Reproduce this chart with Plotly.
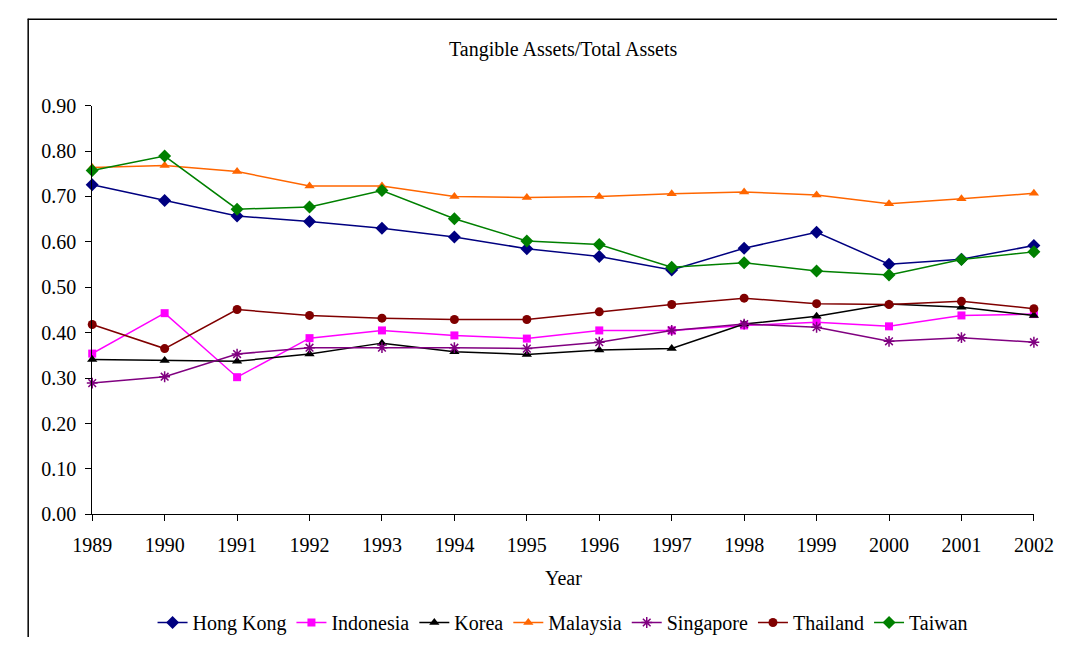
import plotly.graph_objects as go

years = list(range(1989, 2003))

hong_kong = [0.726, 0.691, 0.657, 0.645, 0.630, 0.611, 0.585, 0.568, 0.538, 0.586, 0.621, 0.551, 0.562, 0.592]
indonesia = [0.354, 0.443, 0.302, 0.388, 0.405, 0.394, 0.387, 0.405, 0.405, 0.416, 0.423, 0.414, 0.438, 0.441]
korea = [0.341, 0.339, 0.337, 0.353, 0.377, 0.358, 0.352, 0.362, 0.365, 0.419, 0.436, 0.463, 0.456, 0.438]
malaysia = [0.764, 0.768, 0.755, 0.723, 0.723, 0.700, 0.698, 0.700, 0.706, 0.710, 0.703, 0.684, 0.695, 0.707]
singapore = [0.289, 0.303, 0.353, 0.367, 0.367, 0.367, 0.365, 0.379, 0.405, 0.419, 0.412, 0.381, 0.389, 0.379]
thailand = [0.418, 0.365, 0.451, 0.438, 0.432, 0.429, 0.429, 0.446, 0.462, 0.476, 0.464, 0.462, 0.469, 0.453]
taiwan = [0.757, 0.789, 0.672, 0.677, 0.713, 0.651, 0.602, 0.594, 0.544, 0.554, 0.536, 0.527, 0.561, 0.578]

series = [
    ("Hong Kong", hong_kong, "#000080", "diamond", 10),
    ("Indonesia", indonesia, "#FF00FF", "square", 8),
    ("Korea", korea, "#000000", "triangle-up", 9),
    ("Malaysia", malaysia, "#FF6600", "triangle-up", 9),
    ("Singapore", singapore, "#800080", "asterisk-open", 9),
    ("Thailand", thailand, "#800000", "circle", 9),
    ("Taiwan", taiwan, "#008000", "diamond", 10),
]

FONT = "Liberation Serif, Times New Roman, serif"
W, H = 1077, 648
PL, PR, PT, PB = 75, 1053, 98, 521  # plot area in page pixels


def px_x(p):
    return p / W


def px_y(p):
    return (H - p) / H


fig = go.Figure()
for name, vals, color, sym, size in series:
    marker = dict(symbol=sym, size=size, color=color)
    if sym == "asterisk-open":
        marker["line"] = dict(color=color, width=1.5)
    fig.add_trace(go.Scatter(
        x=years, y=vals, name=name, mode="lines+markers",
        line=dict(color=color, width=1.5), marker=marker, cliponaxis=False,
    ))

CX = 0.5 * (px_x(PL) + px_x(PR))

fig.update_layout(
    width=W, height=H,
    margin=dict(l=0, r=0, t=0, b=0, pad=0),
    paper_bgcolor="white", plot_bgcolor="white",
    font=dict(family=FONT, size=20, color="black"),
    showlegend=True,
    legend=dict(orientation="h", x=CX, xanchor="center",
                y=px_y(633), yanchor="middle", font=dict(size=20),
                itemwidth=30, tracegroupgap=0, bgcolor="rgba(0,0,0,0)"),
    xaxis=dict(domain=[px_x(PL), px_x(PR)], range=[1989, 2002], dtick=1, tick0=1989,
               showline=True, linecolor="black", linewidth=1, ticks="outside", ticklen=6,
               tickcolor="black", showgrid=False, zeroline=False, tickfont=dict(size=20),
               ticklabelstandoff=7, ticklabeloverflow="allow"),
    yaxis=dict(domain=[px_y(PB), px_y(PT)], range=[0, 0.9], dtick=0.1, tick0=0,
               tickformat=".2f", showline=True, linecolor="black", linewidth=1,
               ticks="outside", ticklen=6, tickcolor="black", showgrid=False,
               zeroline=False, tickfont=dict(size=20), ticklabelstandoff=5,
               ticklabeloverflow="allow"),
    annotations=[
        dict(text="Tangible Assets/Total Assets", xref="paper", yref="paper",
             x=CX, y=px_y(40), xanchor="center", yanchor="middle",
             showarrow=False, font=dict(size=20)),
        dict(text="Year", xref="paper", yref="paper", x=CX,
             y=px_y(587), xanchor="center", yanchor="middle", showarrow=False,
             font=dict(size=20)),
    ],
    shapes=[
        dict(type="line", xref="paper", yref="paper", x0=px_x(8.5), x1=px_x(8.5),
             y0=0, y1=px_y(8), line=dict(color="black", width=1.5), layer="below"),
        dict(type="line", xref="paper", yref="paper", x0=px_x(8), x1=1,
             y0=px_y(8.5), y1=px_y(8.5), line=dict(color="black", width=1.5), layer="below"),
    ],
)

post_js = """
document.body.style.margin = '0';
document.documentElement.style.overflow = 'hidden';
"""

fig.write_html("out.html", config={"displayModeBar": False}, post_script=post_js)
